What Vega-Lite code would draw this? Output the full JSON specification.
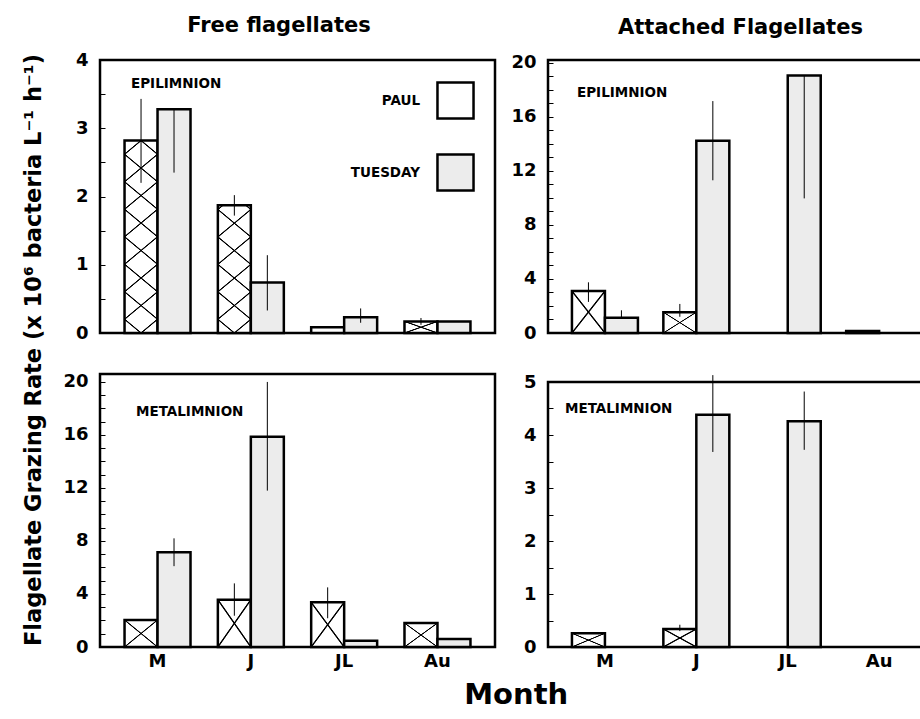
{
  "$schema": "https://vega.github.io/schema/vega-lite/v6.json",
  "background": "white",
  "padding": {"left": 23, "top": 14, "right": 0, "bottom": 0},
  "config": {
    "view": {"stroke": "black", "strokeWidth": 2.5},
    "font": "DejaVu Sans",
    "axis": {"labelFont": "DejaVu Sans", "labelFontWeight": "bold", "labelColor": "black", "grid": false},
    "title": {"font": "DejaVu Sans", "fontWeight": "bold", "color": "black"},
    "legend": {"labelFont": "DejaVu Sans"}
  },
  "datasets": {
    "bars": [
      {"panel": "TL", "month": "M", "series": "PAUL", "bar": "TL-M", "value": 2.82, "lo": 2.2, "hi": 3.43},
      {"panel": "TL", "month": "M", "series": "TUESDAY", "value": 3.28, "lo": 2.35, "hi": 3.28},
      {"panel": "TL", "month": "J", "series": "PAUL", "bar": "TL-J", "value": 1.87, "lo": 1.72, "hi": 2.02},
      {"panel": "TL", "month": "J", "series": "TUESDAY", "value": 0.74, "lo": 0.33, "hi": 1.14},
      {"panel": "TL", "month": "JL", "series": "PAUL", "value": 0.085},
      {"panel": "TL", "month": "JL", "series": "TUESDAY", "value": 0.23, "lo": 0.15, "hi": 0.36},
      {"panel": "TL", "month": "Au", "series": "PAUL", "bar": "TL-Au", "value": 0.17, "lo": 0.12, "hi": 0.22},
      {"panel": "TL", "month": "Au", "series": "TUESDAY", "value": 0.17},
      {"panel": "TR", "month": "M", "series": "PAUL", "bar": "TR-M", "value": 3.1, "lo": 2.3, "hi": 3.75},
      {"panel": "TR", "month": "M", "series": "TUESDAY", "value": 1.12, "lo": 1.12, "hi": 1.68},
      {"panel": "TR", "month": "J", "series": "PAUL", "bar": "TR-J", "value": 1.54, "lo": 1.2, "hi": 2.15},
      {"panel": "TR", "month": "J", "series": "TUESDAY", "value": 14.23, "lo": 11.3, "hi": 17.16},
      {"panel": "TR", "month": "JL", "series": "TUESDAY", "value": 19.05, "lo": 9.96, "hi": 19.05},
      {"panel": "TR", "month": "Au", "series": "PAUL", "value": 0.15},
      {"panel": "BL", "month": "M", "series": "PAUL", "bar": "BL-M", "value": 2.04},
      {"panel": "BL", "month": "M", "series": "TUESDAY", "value": 7.15, "lo": 6.1, "hi": 8.2},
      {"panel": "BL", "month": "J", "series": "PAUL", "bar": "BL-J", "value": 3.57, "lo": 2.36, "hi": 4.8},
      {"panel": "BL", "month": "J", "series": "TUESDAY", "value": 15.87, "lo": 11.8, "hi": 20.0},
      {"panel": "BL", "month": "JL", "series": "PAUL", "bar": "BL-JL", "value": 3.37, "lo": 2.17, "hi": 4.5},
      {"panel": "BL", "month": "JL", "series": "TUESDAY", "value": 0.48},
      {"panel": "BL", "month": "Au", "series": "PAUL", "bar": "BL-Au", "value": 1.81},
      {"panel": "BL", "month": "Au", "series": "TUESDAY", "value": 0.6},
      {"panel": "BR", "month": "M", "series": "PAUL", "bar": "BR-M", "value": 0.26},
      {"panel": "BR", "month": "J", "series": "PAUL", "bar": "BR-J", "value": 0.34, "lo": 0.3, "hi": 0.42},
      {"panel": "BR", "month": "J", "series": "TUESDAY", "value": 4.38, "lo": 3.68, "hi": 5.13},
      {"panel": "BR", "month": "JL", "series": "TUESDAY", "value": 4.26, "lo": 3.72, "hi": 4.82}
    ]
  },
  "title": {"text": "Month", "orient": "bottom", "anchor": "middle", "fontSize": 29, "offset": 10, "dx": 36},
  "vconcat": [
    {
      "title": {"text": "Flagellate Grazing Rate (x 10⁶ bacteria L⁻¹ h⁻¹)", "orient": "left", "anchor": "middle", "fontSize": 22.5, "offset": 16, "dx": -7},
      "spacing": 12,
      "hconcat": [
        {
          "title": {"text": "Free flagellates", "anchor": "middle", "fontSize": 21, "offset": 14},
          "spacing": 27,
          "vconcat": [
            {
              "width": 395, "height": 273,
              "data": {"name": "bars"},
              "transform": [{"filter": "datum.panel === 'TL'"}],
              "title": {"text": "EPILIMNION", "anchor": "start", "frame": "group", "offset": -39, "dx": 31, "fontSize": 13.5},
              "encoding": {
                "x": {"field": "month", "type": "nominal", "scale": {"domain": ["M", "J", "JL", "Au"], "paddingInner": 0.293, "paddingOuter": 0.263}, "axis": null},
                "xOffset": {"field": "series", "type": "nominal", "scale": {"domain": ["PAUL", "TUESDAY"], "paddingInner": 0, "paddingOuter": 0}},
                "y": {"field": "value", "type": "quantitative", "scale": {"domain": [0, 4], "nice": false},
                  "axis": {"title": null, "values": [0, 0.5, 1, 1.5, 2, 2.5, 3, 3.5, 4], "labelExpr": "datum.value % 1 === 0 ? format(datum.value, 'd') : ''", "tickSize": -5, "tickColor": "black", "tickWidth": 1, "domain": false, "labelFontSize": 18, "labelPadding": 17}}
              },
              "layer": [
                {
                  "mark": {"type": "bar", "stroke": "black", "strokeWidth": 2.5},
                  "encoding": {
                    "fill": {"field": "series", "type": "nominal", "scale": {"domain": ["PAUL", "TUESDAY"], "range": ["white", "#ececec"]},
                      "legend": {"orient": "none", "legendX": 336, "legendY": 21, "title": null, "symbolType": "square", "symbolSize": 1300, "symbolStrokeColor": "black", "symbolStrokeWidth": 2.5, "symbolOpacity": 1, "labelAlign": "right", "labelOffset": -55, "labelFontSize": 13.5, "labelFontWeight": "bold", "labelColor": "black", "rowPadding": 25}}
                  }
                },
                {
                  "transform": [{"filter": "datum.bar === 'TL-M'"}],
                  "mark": {"type": "bar", "strokeWidth": 0, "fill": {"gradient": "linear", "x1": 1, "y1": 1, "x2": 0.84, "y2": -0.12, "stops": [
                    {"offset": 0.0572, "color": "rgba(0,0,0,0)"}, {"offset": 0.0607, "color": "black"}, {"offset": 0.0643, "color": "black"}, {"offset": 0.0678, "color": "rgba(0,0,0,0)"},
                    {"offset": 0.1822, "color": "rgba(0,0,0,0)"}, {"offset": 0.1857, "color": "black"}, {"offset": 0.1893, "color": "black"}, {"offset": 0.1928, "color": "rgba(0,0,0,0)"},
                    {"offset": 0.3072, "color": "rgba(0,0,0,0)"}, {"offset": 0.3107, "color": "black"}, {"offset": 0.3143, "color": "black"}, {"offset": 0.3178, "color": "rgba(0,0,0,0)"},
                    {"offset": 0.4322, "color": "rgba(0,0,0,0)"}, {"offset": 0.4357, "color": "black"}, {"offset": 0.4393, "color": "black"}, {"offset": 0.4428, "color": "rgba(0,0,0,0)"},
                    {"offset": 0.5572, "color": "rgba(0,0,0,0)"}, {"offset": 0.5607, "color": "black"}, {"offset": 0.5643, "color": "black"}, {"offset": 0.5678, "color": "rgba(0,0,0,0)"},
                    {"offset": 0.6822, "color": "rgba(0,0,0,0)"}, {"offset": 0.6857, "color": "black"}, {"offset": 0.6893, "color": "black"}, {"offset": 0.6928, "color": "rgba(0,0,0,0)"},
                    {"offset": 0.8072, "color": "rgba(0,0,0,0)"}, {"offset": 0.8107, "color": "black"}, {"offset": 0.8143, "color": "black"}, {"offset": 0.8178, "color": "rgba(0,0,0,0)"},
                    {"offset": 0.9322, "color": "rgba(0,0,0,0)"}, {"offset": 0.9357, "color": "black"}, {"offset": 0.9393, "color": "black"}, {"offset": 0.9428, "color": "rgba(0,0,0,0)"}]}},
                  "encoding": {}
                },
                {
                  "transform": [{"filter": "datum.bar === 'TL-M'"}],
                  "mark": {"type": "bar", "strokeWidth": 0, "fill": {"gradient": "linear", "x1": 0, "y1": 1, "x2": 0.16, "y2": -0.12, "stops": [
                    {"offset": 0.0572, "color": "rgba(0,0,0,0)"}, {"offset": 0.0607, "color": "black"}, {"offset": 0.0643, "color": "black"}, {"offset": 0.0678, "color": "rgba(0,0,0,0)"},
                    {"offset": 0.1822, "color": "rgba(0,0,0,0)"}, {"offset": 0.1857, "color": "black"}, {"offset": 0.1893, "color": "black"}, {"offset": 0.1928, "color": "rgba(0,0,0,0)"},
                    {"offset": 0.3072, "color": "rgba(0,0,0,0)"}, {"offset": 0.3107, "color": "black"}, {"offset": 0.3143, "color": "black"}, {"offset": 0.3178, "color": "rgba(0,0,0,0)"},
                    {"offset": 0.4322, "color": "rgba(0,0,0,0)"}, {"offset": 0.4357, "color": "black"}, {"offset": 0.4393, "color": "black"}, {"offset": 0.4428, "color": "rgba(0,0,0,0)"},
                    {"offset": 0.5572, "color": "rgba(0,0,0,0)"}, {"offset": 0.5607, "color": "black"}, {"offset": 0.5643, "color": "black"}, {"offset": 0.5678, "color": "rgba(0,0,0,0)"},
                    {"offset": 0.6822, "color": "rgba(0,0,0,0)"}, {"offset": 0.6857, "color": "black"}, {"offset": 0.6893, "color": "black"}, {"offset": 0.6928, "color": "rgba(0,0,0,0)"},
                    {"offset": 0.8072, "color": "rgba(0,0,0,0)"}, {"offset": 0.8107, "color": "black"}, {"offset": 0.8143, "color": "black"}, {"offset": 0.8178, "color": "rgba(0,0,0,0)"},
                    {"offset": 0.9322, "color": "rgba(0,0,0,0)"}, {"offset": 0.9357, "color": "black"}, {"offset": 0.9393, "color": "black"}, {"offset": 0.9428, "color": "rgba(0,0,0,0)"}]}},
                  "encoding": {}
                },
                {
                  "transform": [{"filter": "datum.bar === 'TL-J'"}],
                  "mark": {"type": "bar", "strokeWidth": 0, "fill": {"gradient": "linear", "x1": 1, "y1": 1, "x2": 0.7502, "y2": -0.1616, "stops": [
                    {"offset": 0.081, "color": "rgba(0,0,0,0)"}, {"offset": 0.086, "color": "black"}, {"offset": 0.091, "color": "black"}, {"offset": 0.096, "color": "rgba(0,0,0,0)"},
                    {"offset": 0.258, "color": "rgba(0,0,0,0)"}, {"offset": 0.263, "color": "black"}, {"offset": 0.268, "color": "black"}, {"offset": 0.273, "color": "rgba(0,0,0,0)"},
                    {"offset": 0.435, "color": "rgba(0,0,0,0)"}, {"offset": 0.44, "color": "black"}, {"offset": 0.445, "color": "black"}, {"offset": 0.45, "color": "rgba(0,0,0,0)"},
                    {"offset": 0.612, "color": "rgba(0,0,0,0)"}, {"offset": 0.617, "color": "black"}, {"offset": 0.622, "color": "black"}, {"offset": 0.627, "color": "rgba(0,0,0,0)"},
                    {"offset": 0.789, "color": "rgba(0,0,0,0)"}, {"offset": 0.794, "color": "black"}, {"offset": 0.799, "color": "black"}, {"offset": 0.804, "color": "rgba(0,0,0,0)"},
                    {"offset": 0.966, "color": "rgba(0,0,0,0)"}, {"offset": 0.971, "color": "black"}, {"offset": 0.976, "color": "black"}, {"offset": 0.981, "color": "rgba(0,0,0,0)"}]}},
                  "encoding": {}
                },
                {
                  "transform": [{"filter": "datum.bar === 'TL-J'"}],
                  "mark": {"type": "bar", "strokeWidth": 0, "fill": {"gradient": "linear", "x1": 0, "y1": 1, "x2": 0.2498, "y2": -0.1616, "stops": [
                    {"offset": 0.081, "color": "rgba(0,0,0,0)"}, {"offset": 0.086, "color": "black"}, {"offset": 0.091, "color": "black"}, {"offset": 0.096, "color": "rgba(0,0,0,0)"},
                    {"offset": 0.258, "color": "rgba(0,0,0,0)"}, {"offset": 0.263, "color": "black"}, {"offset": 0.268, "color": "black"}, {"offset": 0.273, "color": "rgba(0,0,0,0)"},
                    {"offset": 0.435, "color": "rgba(0,0,0,0)"}, {"offset": 0.44, "color": "black"}, {"offset": 0.445, "color": "black"}, {"offset": 0.45, "color": "rgba(0,0,0,0)"},
                    {"offset": 0.612, "color": "rgba(0,0,0,0)"}, {"offset": 0.617, "color": "black"}, {"offset": 0.622, "color": "black"}, {"offset": 0.627, "color": "rgba(0,0,0,0)"},
                    {"offset": 0.789, "color": "rgba(0,0,0,0)"}, {"offset": 0.794, "color": "black"}, {"offset": 0.799, "color": "black"}, {"offset": 0.804, "color": "rgba(0,0,0,0)"},
                    {"offset": 0.966, "color": "rgba(0,0,0,0)"}, {"offset": 0.971, "color": "black"}, {"offset": 0.976, "color": "black"}, {"offset": 0.981, "color": "rgba(0,0,0,0)"}]}},
                  "encoding": {}
                },
                {
                  "transform": [{"filter": "datum.bar === 'TL-Au'"}],
                  "mark": {"type": "bar", "strokeWidth": 0, "fill": {"gradient": "linear", "x1": 1, "y1": 1, "x2": 0, "y2": 0, "stops": [
                    {"offset": 0.459, "color": "rgba(0,0,0,0)"}, {"offset": 0.4863, "color": "black"}, {"offset": 0.5137, "color": "black"}, {"offset": 0.541, "color": "rgba(0,0,0,0)"}]}},
                  "encoding": {}
                },
                {
                  "transform": [{"filter": "datum.bar === 'TL-Au'"}],
                  "mark": {"type": "bar", "strokeWidth": 0, "fill": {"gradient": "linear", "x1": 0, "y1": 1, "x2": 1, "y2": 0, "stops": [
                    {"offset": 0.459, "color": "rgba(0,0,0,0)"}, {"offset": 0.4863, "color": "black"}, {"offset": 0.5137, "color": "black"}, {"offset": 0.541, "color": "rgba(0,0,0,0)"}]}},
                  "encoding": {}
                },
                {
                  "transform": [{"filter": "isValid(datum.lo)"}],
                  "mark": {"type": "rule", "strokeWidth": 1, "color": "black"},
                  "encoding": {
                    "y": {"field": "lo", "type": "quantitative"},
                    "y2": {"field": "hi"}
                  }
                }
              ]
            },
            {
              "width": 395, "height": 273,
              "data": {"name": "bars"},
              "transform": [{"filter": "datum.panel === 'BL'"}],
              "title": {"text": "METALIMNION", "anchor": "start", "frame": "group", "offset": -46, "dx": 36, "fontSize": 13.5},
              "encoding": {
                "x": {"field": "month", "type": "nominal", "scale": {"domain": ["M", "J", "JL", "Au"], "paddingInner": 0.293, "paddingOuter": 0.263},
                  "axis": {"title": null, "labelAngle": 0, "labelFontSize": 18, "ticks": false, "domain": false, "labelPadding": 5}},
                "xOffset": {"field": "series", "type": "nominal", "scale": {"domain": ["PAUL", "TUESDAY"], "paddingInner": 0, "paddingOuter": 0}},
                "y": {"field": "value", "type": "quantitative", "scale": {"domain": [0, 20.6], "nice": false},
                  "axis": {"title": null, "values": [0, 1, 2, 3, 4, 5, 6, 7, 8, 9, 10, 11, 12, 13, 14, 15, 16, 17, 18, 19, 20], "labelExpr": "datum.value % 4 === 0 ? format(datum.value, 'd') : ''", "tickSize": -5, "tickColor": "black", "tickWidth": 1, "domain": false, "labelFontSize": 18, "labelPadding": 17}}
              },
              "layer": [
                {
                  "mark": {"type": "bar", "stroke": "black", "strokeWidth": 2.5},
                  "encoding": {
                    "fill": {"field": "series", "type": "nominal", "scale": {"domain": ["PAUL", "TUESDAY"], "range": ["white", "#ececec"]}, "legend": null}
                  }
                },
                {
                  "transform": [{"filter": "isValid(datum.bar)"}],
                  "mark": {"type": "bar", "strokeWidth": 0, "fill": {"gradient": "linear", "x1": 1, "y1": 1, "x2": 0, "y2": 0, "stops": [
                    {"offset": 0.48, "color": "rgba(0,0,0,0)"}, {"offset": 0.4933, "color": "black"}, {"offset": 0.5067, "color": "black"}, {"offset": 0.52, "color": "rgba(0,0,0,0)"}]}},
                  "encoding": {}
                },
                {
                  "transform": [{"filter": "isValid(datum.bar)"}],
                  "mark": {"type": "bar", "strokeWidth": 0, "fill": {"gradient": "linear", "x1": 0, "y1": 1, "x2": 1, "y2": 0, "stops": [
                    {"offset": 0.48, "color": "rgba(0,0,0,0)"}, {"offset": 0.4933, "color": "black"}, {"offset": 0.5067, "color": "black"}, {"offset": 0.52, "color": "rgba(0,0,0,0)"}]}},
                  "encoding": {}
                },
                {
                  "transform": [{"filter": "isValid(datum.lo)"}],
                  "mark": {"type": "rule", "strokeWidth": 1, "color": "black"},
                  "encoding": {
                    "y": {"field": "lo", "type": "quantitative"},
                    "y2": {"field": "hi"}
                  }
                }
              ]
            }
          ]
        },
        {
          "title": {"text": "Attached Flagellates", "anchor": "middle", "fontSize": 21, "offset": 14, "dx": 17},
          "spacing": 27,
          "vconcat": [
            {
              "width": 379, "height": 273,
              "data": {"name": "bars"},
              "transform": [{"filter": "datum.panel === 'TR'"}],
              "title": {"text": "EPILIMNION", "anchor": "start", "frame": "group", "offset": -46, "dx": 29, "fontSize": 13.5},
              "encoding": {
                "x": {"field": "month", "type": "nominal", "scale": {"domain": ["M", "J", "JL", "Au"], "range": [0, 388], "paddingInner": 0.279, "paddingOuter": 0.262}, "axis": null},
                "xOffset": {"field": "series", "type": "nominal", "scale": {"domain": ["PAUL", "TUESDAY"], "paddingInner": 0, "paddingOuter": 0}},
                "y": {"field": "value", "type": "quantitative", "scale": {"domain": [0, 20.2], "nice": false},
                  "axis": {"title": null, "values": [0, 1, 2, 3, 4, 5, 6, 7, 8, 9, 10, 11, 12, 13, 14, 15, 16, 17, 18, 19, 20], "labelExpr": "datum.value % 4 === 0 ? format(datum.value, 'd') : ''", "tickSize": -5, "tickColor": "black", "tickWidth": 1, "domain": false, "labelFontSize": 18, "labelPadding": 17}}
              },
              "layer": [
                {
                  "mark": {"type": "bar", "stroke": "black", "strokeWidth": 2.5},
                  "encoding": {
                    "fill": {"field": "series", "type": "nominal", "scale": {"domain": ["PAUL", "TUESDAY"], "range": ["white", "#ececec"]}, "legend": null}
                  }
                },
                {
                  "transform": [{"filter": "isValid(datum.bar)"}],
                  "mark": {"type": "bar", "strokeWidth": 0, "fill": {"gradient": "linear", "x1": 1, "y1": 1, "x2": 0, "y2": 0, "stops": [
                    {"offset": 0.479, "color": "rgba(0,0,0,0)"}, {"offset": 0.493, "color": "black"}, {"offset": 0.507, "color": "black"}, {"offset": 0.521, "color": "rgba(0,0,0,0)"}]}},
                  "encoding": {}
                },
                {
                  "transform": [{"filter": "isValid(datum.bar)"}],
                  "mark": {"type": "bar", "strokeWidth": 0, "fill": {"gradient": "linear", "x1": 0, "y1": 1, "x2": 1, "y2": 0, "stops": [
                    {"offset": 0.479, "color": "rgba(0,0,0,0)"}, {"offset": 0.493, "color": "black"}, {"offset": 0.507, "color": "black"}, {"offset": 0.521, "color": "rgba(0,0,0,0)"}]}},
                  "encoding": {}
                },
                {
                  "transform": [{"filter": "isValid(datum.lo)"}],
                  "mark": {"type": "rule", "strokeWidth": 1, "color": "black"},
                  "encoding": {
                    "y": {"field": "lo", "type": "quantitative"},
                    "y2": {"field": "hi"}
                  }
                }
              ]
            },
            {
              "width": 379, "height": 265,
              "data": {"name": "bars"},
              "transform": [{"filter": "datum.panel === 'BR'"}],
              "title": {"text": "METALIMNION", "anchor": "start", "frame": "group", "offset": -42, "dx": 17, "fontSize": 13.5},
              "encoding": {
                "x": {"field": "month", "type": "nominal", "scale": {"domain": ["M", "J", "JL", "Au"], "range": [0, 388], "paddingInner": 0.279, "paddingOuter": 0.262},
                  "axis": {"title": null, "labelAngle": 0, "labelFontSize": 18, "ticks": false, "domain": false, "labelPadding": 5}},
                "xOffset": {"field": "series", "type": "nominal", "scale": {"domain": ["PAUL", "TUESDAY"], "paddingInner": 0, "paddingOuter": 0}},
                "y": {"field": "value", "type": "quantitative", "scale": {"domain": [0, 5], "nice": false},
                  "axis": {"title": null, "values": [0, 0.5, 1, 1.5, 2, 2.5, 3, 3.5, 4, 4.5, 5], "labelExpr": "datum.value % 1 === 0 ? format(datum.value, 'd') : ''", "tickSize": -5, "tickColor": "black", "tickWidth": 1, "domain": false, "labelFontSize": 18, "labelPadding": 17}}
              },
              "layer": [
                {
                  "mark": {"type": "bar", "stroke": "black", "strokeWidth": 2.5},
                  "encoding": {
                    "fill": {"field": "series", "type": "nominal", "scale": {"domain": ["PAUL", "TUESDAY"], "range": ["white", "#ececec"]}, "legend": null}
                  }
                },
                {
                  "transform": [{"filter": "isValid(datum.bar)"}],
                  "mark": {"type": "bar", "strokeWidth": 0, "fill": {"gradient": "linear", "x1": 1, "y1": 1, "x2": 0, "y2": 0, "stops": [
                    {"offset": 0.468, "color": "rgba(0,0,0,0)"}, {"offset": 0.4893, "color": "black"}, {"offset": 0.5107, "color": "black"}, {"offset": 0.532, "color": "rgba(0,0,0,0)"}]}},
                  "encoding": {}
                },
                {
                  "transform": [{"filter": "isValid(datum.bar)"}],
                  "mark": {"type": "bar", "strokeWidth": 0, "fill": {"gradient": "linear", "x1": 0, "y1": 1, "x2": 1, "y2": 0, "stops": [
                    {"offset": 0.468, "color": "rgba(0,0,0,0)"}, {"offset": 0.4893, "color": "black"}, {"offset": 0.5107, "color": "black"}, {"offset": 0.532, "color": "rgba(0,0,0,0)"}]}},
                  "encoding": {}
                },
                {
                  "transform": [{"filter": "isValid(datum.lo)"}],
                  "mark": {"type": "rule", "strokeWidth": 1, "color": "black"},
                  "encoding": {
                    "y": {"field": "lo", "type": "quantitative"},
                    "y2": {"field": "hi"}
                  }
                }
              ]
            }
          ]
        }
      ]
    }
  ]
}
